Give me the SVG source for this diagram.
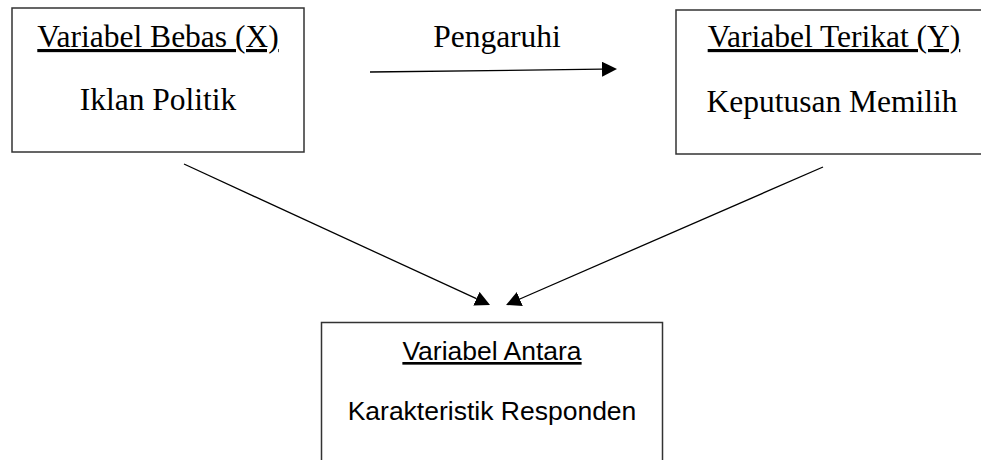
<svg xmlns="http://www.w3.org/2000/svg" width="981" height="460" viewBox="0 0 981 460">
<defs>
<style>
.box{fill:#fff;stroke:#333;stroke-width:1.5}
.serif{font-family:"Liberation Serif","Times New Roman",serif;font-size:31.5px;fill:#000;text-anchor:middle}
.sans{font-family:"Liberation Sans",Arial,sans-serif;font-size:26.5px;fill:#000;text-anchor:middle}
.u{text-decoration:underline}
.conn{stroke:#000;stroke-width:1.3;fill:none;marker-end:url(#ah)}
</style>
<marker id="ah" markerUnits="userSpaceOnUse" markerWidth="16" markerHeight="16" refX="0" refY="7.5" orient="auto" viewBox="0 0 16 16">
<path d="M0,0 L15,7.5 L0,15 z" fill="#000"/>
</marker>
</defs>
<rect width="981" height="460" fill="#fff"/>
<g id="node-x">
<rect class="box" x="12" y="8" width="292" height="144"/>
<text class="serif u" x="158" y="47">Variabel Bebas (X)</text>
<text class="serif" x="158" y="110">Iklan Politik</text>
</g>
<g id="node-y">
<rect class="box" x="676" y="10" width="320" height="144"/>
<text class="serif u" x="834" y="47">Variabel Terikat (Y)</text>
<text class="serif" x="832" y="112">Keputusan Memilih</text>
</g>
<g id="node-antara">
<rect class="box" x="321.5" y="322.5" width="341" height="160"/>
<text class="sans u" x="492" y="360">Variabel Antara</text>
<text class="sans" x="492" y="420">Karakteristik Responden</text>
</g>
<g id="connectors">
<text class="serif" x="497" y="47">Pengaruhi</text>
<line class="conn" x1="370" y1="72" x2="602" y2="69.2"/>
<line class="conn" x1="184" y1="164" x2="476.4" y2="298.7"/>
<line class="conn" x1="823" y1="167" x2="519.8" y2="299"/>
</g>
</svg>
